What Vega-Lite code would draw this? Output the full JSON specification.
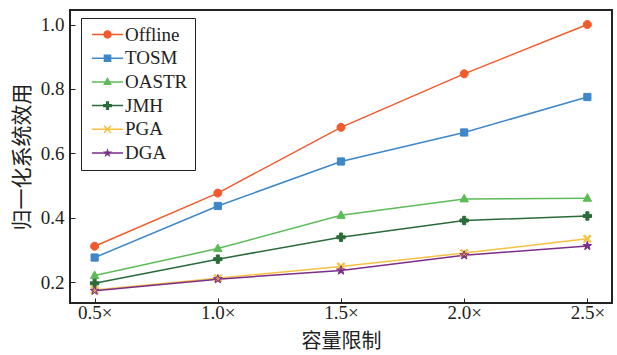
{
  "$schema": "https://vega.github.io/schema/vega-lite/v6.json",
  "autosize": "none",
  "width": 542,
  "height": 293,
  "padding": {"left": 70, "top": 10, "right": 5, "bottom": 52},
  "background": "white",
  "config": {
    "view": {"stroke": "#222222", "strokeWidth": 2},
    "axis": {
      "grid": false,
      "domain": false,
      "tickColor": "#222222",
      "tickWidth": 1,
      "tickSize": -5,
      "labelFont": "Liberation Serif",
      "labelFontSize": 19,
      "labelColor": "#222222",
      "titleFont": "Noto Sans CJK SC",
      "titleFontSize": 20,
      "titleFontWeight": "normal",
      "titleColor": "#222222"
    },
    "legend": {
      "orient": "none",
      "legendX": 11,
      "legendY": 8,
      "direction": "vertical",
      "fillColor": "white",
      "strokeColor": "#222222",
      "padding": 7,
      "cornerRadius": 0,
      "symbolSize": 64,
      "symbolOffset": 10,
      "symbolStrokeWidth": 0,
      "labelOffset": 8,
      "rowPadding": 3.7,
      "labelFont": "Liberation Serif",
      "labelFontSize": 19,
      "labelColor": "#222222"
    }
  },
  "resolve": {"scale": {"shape": "independent", "color": "independent"}},
  "data": {
    "values": [
      {"x": 0.5, "series": "Offline", "y": 0.312},
      {"x": 1.0, "series": "Offline", "y": 0.477},
      {"x": 1.5, "series": "Offline", "y": 0.681},
      {"x": 2.0, "series": "Offline", "y": 0.847},
      {"x": 2.5, "series": "Offline", "y": 1.0},
      {"x": 0.5, "series": "TOSM", "y": 0.277},
      {"x": 1.0, "series": "TOSM", "y": 0.437},
      {"x": 1.5, "series": "TOSM", "y": 0.575},
      {"x": 2.0, "series": "TOSM", "y": 0.665},
      {"x": 2.5, "series": "TOSM", "y": 0.775},
      {"x": 0.5, "series": "OASTR", "y": 0.221},
      {"x": 1.0, "series": "OASTR", "y": 0.305},
      {"x": 1.5, "series": "OASTR", "y": 0.408},
      {"x": 2.0, "series": "OASTR", "y": 0.459},
      {"x": 2.5, "series": "OASTR", "y": 0.461},
      {"x": 0.5, "series": "JMH", "y": 0.197},
      {"x": 1.0, "series": "JMH", "y": 0.272},
      {"x": 1.5, "series": "JMH", "y": 0.340},
      {"x": 2.0, "series": "JMH", "y": 0.392},
      {"x": 2.5, "series": "JMH", "y": 0.406},
      {"x": 0.5, "series": "PGA", "y": 0.176},
      {"x": 1.0, "series": "PGA", "y": 0.213},
      {"x": 1.5, "series": "PGA", "y": 0.249},
      {"x": 2.0, "series": "PGA", "y": 0.291},
      {"x": 2.5, "series": "PGA", "y": 0.335},
      {"x": 0.5, "series": "DGA", "y": 0.174},
      {"x": 1.0, "series": "DGA", "y": 0.210},
      {"x": 1.5, "series": "DGA", "y": 0.237},
      {"x": 2.0, "series": "DGA", "y": 0.284},
      {"x": 2.5, "series": "DGA", "y": 0.313}
    ]
  },
  "encoding": {
    "x": {
      "field": "x",
      "type": "quantitative",
      "scale": {"domain": [0.4, 2.6], "nice": false, "zero": false},
      "axis": {
        "values": [0.5, 1.0, 1.5, 2.0, 2.5],
        "labelExpr": "format(datum.value, '.1f') + '×'",
        "labelPadding": 5,
        "title": "容量限制",
        "titlePadding": 9
      }
    },
    "y": {
      "field": "y",
      "type": "quantitative",
      "scale": {"domain": [0.136, 1.045], "nice": false, "zero": false},
      "axis": {
        "values": [0.2, 0.4, 0.6, 0.8, 1.0],
        "format": ".1f",
        "labelPadding": 11,
        "title": "归一化系统效用",
        "titleFontSize": 21,
        "titlePadding": 8
      }
    }
  },
  "layer": [
    {
      "mark": {"type": "point", "filled": true, "size": 0, "opacity": 1},
      "encoding": {
        "color": {
          "field": "series",
          "type": "nominal",
          "scale": {
            "domain": ["Offline", "TOSM", "OASTR", "JMH", "PGA", "DGA"],
            "range": ["#f15a2b", "#3e87c8", "#5dbb58", "#2a6b39", "#f7c043", "#7b2d8b"]
          },
          "legend": {"title": null}
        },
        "shape": {
          "field": "series",
          "type": "nominal",
          "scale": {
            "domain": ["Offline", "TOSM", "OASTR", "JMH", "PGA", "DGA"],
            "range": [
              "M-3.9,-0.19L3.9,-0.19L3.9,0.19L-3.9,0.19ZM-1.05,0A1.05,1.05 0 1,1 1.05,0A1.05,1.05 0 1,1 -1.05,0Z",
              "M-3.9,-0.19L3.9,-0.19L3.9,0.19L-3.9,0.19ZM-0.95,-0.95L0.95,-0.95L0.95,0.95L-0.95,0.95Z",
              "M-3.9,-0.19L3.9,-0.19L3.9,0.19L-3.9,0.19ZM0,-1.2L1.1,0.8L-1.1,0.8Z",
              "M-3.9,-0.19L3.9,-0.19L3.9,0.19L-3.9,0.19ZM-0.4,-1.1L0.4,-1.1L0.4,-0.4L1.1,-0.4L1.1,0.4L0.4,0.4L0.4,1.1L-0.4,1.1L-0.4,0.4L-1.1,0.4L-1.1,-0.4L-0.4,-0.4Z",
              "M-3.9,-0.19L3.9,-0.19L3.9,0.19L-3.9,0.19ZM-0.709,-0.991L0.991,0.709L0.709,0.991L-0.991,-0.709ZM-0.991,0.709L0.709,-0.991L0.991,-0.709L-0.709,0.991Z",
              "M-3.9,-0.19L3.9,-0.19L3.9,0.19L-3.9,0.19ZM0,-1.2L0.28,-0.39L1.14,-0.37L0.456,0.148L0.705,0.97L0,0.48L-0.705,0.97L-0.456,0.148L-1.14,-0.37L-0.28,-0.39Z"
            ]
          },
          "legend": {"title": null}
        }
      }
    },
    {
      "mark": {"type": "line", "strokeWidth": 1.5},
      "encoding": {
        "color": {
          "field": "series",
          "type": "nominal",
          "scale": {
            "domain": ["Offline", "TOSM", "OASTR", "JMH", "PGA", "DGA"],
            "range": ["#f15a2b", "#3e87c8", "#5dbb58", "#2a6b39", "#f7c043", "#7b2d8b"]
          },
          "legend": null
        }
      }
    },
    {
      "mark": {"type": "point", "filled": true, "size": 64, "opacity": 1},
      "encoding": {
        "color": {
          "field": "series",
          "type": "nominal",
          "scale": {
            "domain": ["Offline", "TOSM", "OASTR", "JMH", "PGA", "DGA"],
            "range": ["#f15a2b", "#3e87c8", "#5dbb58", "#2a6b39", "#f7c043", "#7b2d8b"]
          },
          "legend": null
        },
        "shape": {
          "field": "series",
          "type": "nominal",
          "scale": {
            "domain": ["Offline", "TOSM", "OASTR", "JMH", "PGA", "DGA"],
            "range": [
              "M-1,0A1,1 0 1,1 1,0A1,1 0 1,1 -1,0Z",
              "M-0.9,-0.9L0.9,-0.9L0.9,0.9L-0.9,0.9Z",
              "M0,-1.15L1.05,0.75L-1.05,0.75Z",
              "M-0.38,-1.05L0.38,-1.05L0.38,-0.38L1.05,-0.38L1.05,0.38L0.38,0.38L0.38,1.05L-0.38,1.05L-0.38,0.38L-1.05,0.38L-1.05,-0.38L-0.38,-0.38Z",
              "M-0.709,-0.991L0.991,0.709L0.709,0.991L-0.991,-0.709ZM-0.991,0.709L0.709,-0.991L0.991,-0.709L-0.709,0.991Z",
              "M0,-1.15L0.27,-0.372L1.094,-0.355L0.437,0.142L0.676,0.93L0,0.46L-0.676,0.93L-0.437,0.142L-1.094,-0.355L-0.27,-0.372Z"
            ]
          },
          "legend": null
        }
      }
    },
    {
      "mark": {"type": "point", "filled": false, "size": 64, "strokeWidth": 1, "opacity": 1},
      "encoding": {
        "color": {
          "field": "series",
          "type": "nominal",
          "scale": {
            "domain": ["Offline", "TOSM", "OASTR", "JMH", "PGA", "DGA"],
            "range": ["#f15a2b", "#3e87c8", "#5dbb58", "#2a6b39", "#f7c043", "#7b2d8b"]
          },
          "legend": null
        },
        "shape": {
          "field": "series",
          "type": "nominal",
          "scale": {
            "domain": ["Offline", "TOSM", "OASTR", "JMH", "PGA", "DGA"],
            "range": [
              "M-1,0A1,1 0 1,1 1,0A1,1 0 1,1 -1,0Z",
              "M-0.9,-0.9L0.9,-0.9L0.9,0.9L-0.9,0.9Z",
              "M0,-1.15L1.05,0.75L-1.05,0.75Z",
              "M-0.38,-1.05L0.38,-1.05L0.38,-0.38L1.05,-0.38L1.05,0.38L0.38,0.38L0.38,1.05L-0.38,1.05L-0.38,0.38L-1.05,0.38L-1.05,-0.38L-0.38,-0.38Z",
              "M-0.709,-0.991L0.991,0.709L0.709,0.991L-0.991,-0.709ZM-0.991,0.709L0.709,-0.991L0.991,-0.709L-0.709,0.991Z",
              "M0,-1.15L0.27,-0.372L1.094,-0.355L0.437,0.142L0.676,0.93L0,0.46L-0.676,0.93L-0.437,0.142L-1.094,-0.355L-0.27,-0.372Z"
            ]
          },
          "legend": null
        }
      }
    }
  ]
}
